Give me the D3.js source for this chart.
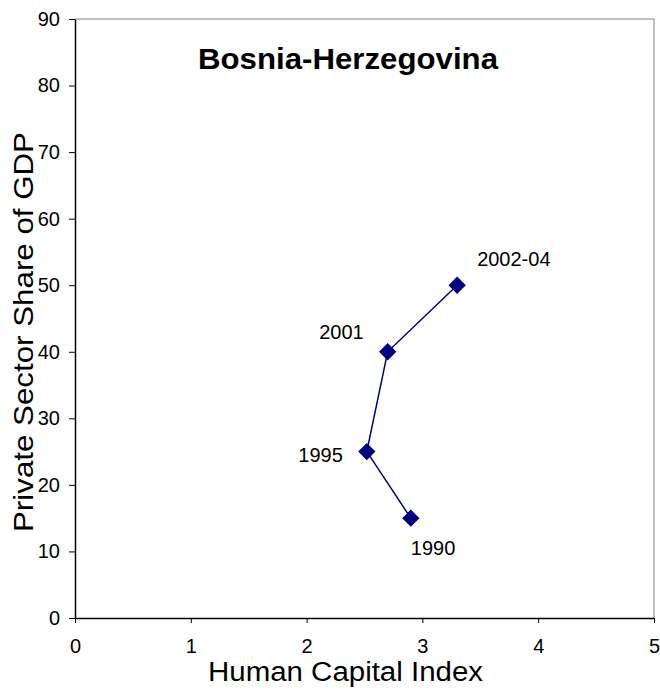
<!DOCTYPE html>
<html><head><meta charset="utf-8">
<script src="https://cdn.jsdelivr.net/npm/d3@7"></script>
<style>body{margin:0;background:#fff}svg{font-family:"Liberation Sans",Arial,sans-serif}</style>
</head><body>
<svg id="c" width="660" height="690"></svg>
<script>
const years = ["1990","1995","2001","2002-04"];
const humanCapital = [2.9, 2.52, 2.7, 3.3];
const privateShare = [15, 25, 40, 50];
const xTicks = [0,1,2,3,4,5];
const yTicks = [0,10,20,30,40,50,60,70,80,90];
const title = "Bosnia-Herzegovina";
const xTitle = "Human Capital Index";
const yTitle = "Private Sector Share of GDP";

const svg = d3.select("#c");
const L=75, R=654, T=19, B=618;
const x = d3.scaleLinear().domain([0,5]).range([L,R]);
const y = d3.scaleLinear().domain([0,90]).range([B,T]);

// plot border (gray)
svg.append("line").attr("x1",L).attr("x2",R).attr("y1",T).attr("y2",T).attr("stroke","#808080").attr("stroke-width",1);
svg.append("line").attr("x1",R).attr("x2",R).attr("y1",T).attr("y2",B).attr("stroke","#808080").attr("stroke-width",1);

const xa = svg.append("g").attr("transform",`translate(0,${B})`)
  .call(d3.axisBottom(x).tickValues(xTicks).tickFormat(d3.format("d")).tickSizeInner(5).tickSizeOuter(0).tickPadding(16));
const ya = svg.append("g").attr("transform",`translate(${L},0)`)
  .call(d3.axisLeft(y).tickValues(yTicks).tickFormat(d3.format("d")).tickSizeInner(6).tickSizeOuter(0).tickPadding(9));
[xa,ya].forEach(a=>{
  a.selectAll("path").attr("stroke","#000").attr("stroke-width",1.5);
  a.selectAll("line").attr("stroke","#000");
  a.selectAll("text").attr("font-size",20).attr("fill","#000").attr("font-family","Liberation Sans, Arial, sans-serif");
});

const pts = years.map((yr,i)=>({yr, hx:humanCapital[i], ps:privateShare[i]}));
svg.append("path").datum(pts)
  .attr("d", d3.line().x(d=>x(d.hx)).y(d=>y(d.ps)))
  .attr("fill","none").attr("stroke","#000080").attr("stroke-width",1.5);
svg.selectAll(".m").data(pts).enter().append("path")
  .attr("d", d3.symbol().type(d3.symbolSquare).size(150))
  .attr("transform", d=>`translate(${x(d.hx)},${y(d.ps)}) rotate(45)`)
  .attr("fill","#000080");

const offs = {"1990":[0,37,"start"], "1995":[-24,10,"end"], "2001":[-24,-13,"end"], "2002-04":[20,-19,"start"]};
svg.selectAll(".lb").data(pts).enter().append("text")
  .attr("x", d=>x(d.hx)+offs[d.yr][0])
  .attr("y", d=>y(d.ps)+offs[d.yr][1])
  .attr("text-anchor", d=>offs[d.yr][2])
  .attr("font-size",20).attr("fill","#000").text(d=>d.yr);

svg.append("text").attr("x",348).attr("y",69).attr("text-anchor","middle")
  .attr("font-size",30).attr("font-weight","bold")
  .attr("textLength",300).attr("lengthAdjust","spacingAndGlyphs").text(title);
svg.append("text").attr("x",345.5).attr("y",681).attr("text-anchor","middle")
  .attr("font-size",27).attr("textLength",275).attr("lengthAdjust","spacingAndGlyphs").text(xTitle);
svg.append("text").attr("transform",`translate(33,332) rotate(-90)`).attr("text-anchor","middle")
  .attr("font-size",28).attr("textLength",400).attr("lengthAdjust","spacingAndGlyphs").text(yTitle);
</script>
</body></html>
